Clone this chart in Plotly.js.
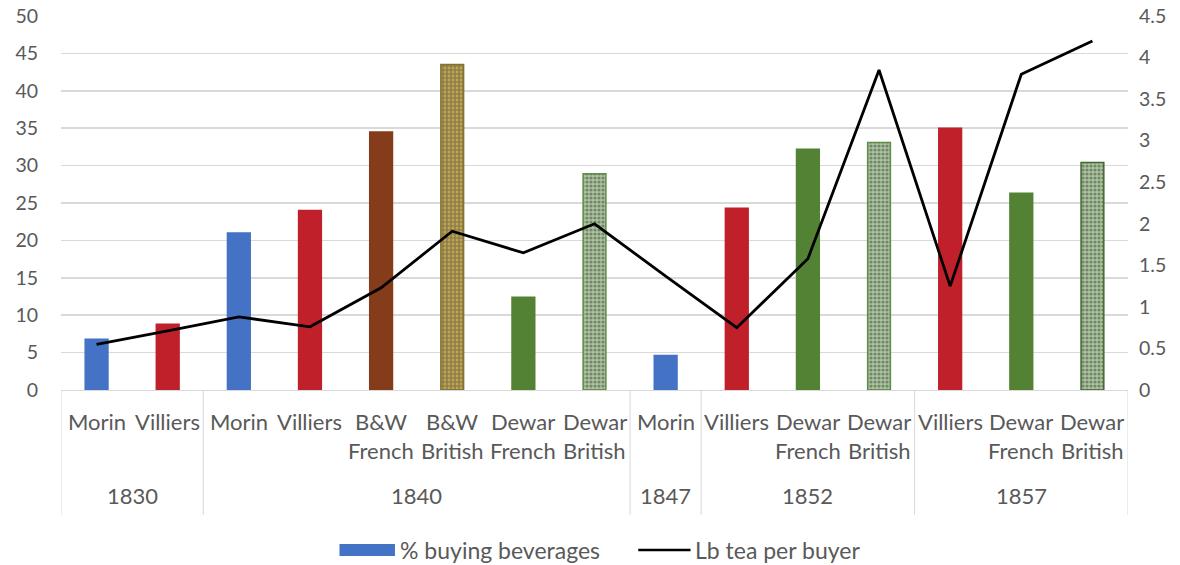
<!DOCTYPE html>
<html>
<head>
<meta charset="utf-8">
<script src="https://cdn.plot.ly/plotly-3.0.1.min.js"></script>
<style>
  html, body { margin: 0; padding: 0; background: #fff; }
  #chart { width: 1180px; height: 565px; }
</style>
</head>
<body>
<div id="chart"></div>
<script>
// outer level (year) and the two lines of each buyer label
const years = ['1830', '1830', '1840', '1840', '1840', '1840', '1840', '1840',
  '1847', '1852', '1852', '1852', '1857', '1857', '1857'];
const buyerTop = ['Morin', 'Villiers', 'Morin', 'Villiers', 'B&W', 'B&W', 'Dewar', 'Dewar',
  'Morin', 'Villiers', 'Dewar', 'Dewar', 'Villiers', 'Dewar', 'Dewar'];
const buyerBottom = ['', '', '', '', 'French', 'British', 'French', 'British',
  '', '', 'French', 'British', '', 'French', 'British'];

// % buying beverages (left axis)
const pctBuying = [6.8, 8.8, 21, 24, 34.5, 43.5, 12.4, 28.9, 4.6, 24.3, 32.2, 33.1, 35, 26.3, 30.4];
// lb tea per buyer (right axis)
const lbTea = [0.55, 0.71, 0.88, 0.76, 1.23, 1.91, 1.65, 2.0, 1.37, 0.75, 1.58, 3.85, 1.25, 3.8, 4.2];

const barColors = ['#4472C4', '#C0202A', '#4472C4', '#C0202A', '#843C1B', '#BFA550',
  '#548235', '#A9C59B', '#4472C4', '#C0202A', '#548235', '#A9C59B', '#C0202A', '#548235', '#A9C59B'];
const patShapes = ['', '', '', '', '', '+', '', '.', '', '', '', '.', '', '', '.'];
const patFg = ['#fff', '#fff', '#fff', '#fff', '#fff', '#6A561A', '#fff', '#EEF4EA', '#fff', '#fff',
  '#fff', '#EEF4EA', '#fff', '#fff', '#EEF4EA'];
const edgeColors = ['#4472C4', '#C0202A', '#4472C4', '#C0202A', '#843C1B', '#857030',
  '#548235', '#5E8C45', '#4472C4', '#C0202A', '#548235', '#5E8C45', '#C0202A', '#548235', '#41692F'];

const keys = years.map((y, i) => y + ' ' + buyerTop[i] + ' ' + buyerBottom[i]);

const bars = {
  type: 'bar',
  name: '% buying beverages',
  x: keys,
  y: pctBuying,
  width: 0.32,
  showlegend: false,
  marker: {
    color: barColors,
    line: { color: edgeColors, width: 1.5 },
    pattern: { shape: patShapes, fgcolor: patFg, bgcolor: barColors, size: 4, solidity: 0.5, fillmode: 'overlay' }
  },
  hoverinfo: 'y'
};

const line = {
  type: 'scatter',
  mode: 'lines',
  name: 'Lb tea per buyer',
  x: keys,
  y: lbTea,
  yaxis: 'y2',
  showlegend: false,
  line: { color: '#000', width: 2.8 }
};

const fontFam = 'Lato, "Open Sans", sans-serif';
const grey = '#595959';
const catFont = { family: fontFam, size: 22, color: grey };
const legFont = { family: fontFam, size: 23, color: grey };

// category labels, year labels and group dividers (paper y below the plot)
const annotations = [];
keys.forEach((k, i) => {
  annotations.push({ xref: 'x', yref: 'paper', x: i, y: -0.083, text: buyerTop[i],
    showarrow: false, font: catFont, xanchor: 'center', yanchor: 'middle' });
  if (buyerBottom[i]) {
    annotations.push({ xref: 'x', yref: 'paper', x: i, y: -0.161, text: buyerBottom[i],
      showarrow: false, font: catFont, xanchor: 'center', yanchor: 'middle' });
  }
});
const shapes = [];
const bounds = [-0.5];
years.forEach((y, i) => { if (i === years.length - 1 || years[i + 1] !== y) bounds.push(i + 0.5); });
bounds.forEach((b, j) => {
  shapes.push({ type: 'line', xref: 'x', yref: 'paper', x0: b, x1: b, y0: 0, y1: -0.334,
    line: { color: '#D9D9D9', width: 1 } });
  if (j > 0) {
    annotations.push({ xref: 'x', yref: 'paper', x: (bounds[j - 1] + b) / 2, y: -0.283,
      text: years[Math.round(b - 0.5)], showarrow: false, font: catFont,
      xanchor: 'center', yanchor: 'middle' });
  }
});

// legend, drawn below the chart
shapes.push({ type: 'rect', xref: 'paper', yref: 'paper', x0: 0.261, x1: 0.313, y0: -0.412, y1: -0.444,
  fillcolor: barColors[0], line: { width: 0 } });
annotations.push({ xref: 'paper', yref: 'paper', x: 0.316, y: -0.428, text: bars.name,
  showarrow: false, font: legFont, xanchor: 'left', yanchor: 'middle' });
shapes.push({ type: 'line', xref: 'paper', yref: 'paper', x0: 0.541, x1: 0.590, y0: -0.428, y1: -0.428,
  line: { color: '#000', width: 2.5 } });
annotations.push({ xref: 'paper', yref: 'paper', x: 0.592, y: -0.428, text: line.name,
  showarrow: false, font: legFont, xanchor: 'left', yanchor: 'middle' });

Plotly.newPlot('chart', [bars, line], {
  width: 1180,
  height: 565,
  margin: { l: 61, r: 52, t: 16, b: 175, autoexpand: false },
  paper_bgcolor: '#fff',
  plot_bgcolor: '#fff',
  font: { family: fontFam, size: 19.5, color: grey },
  showlegend: false,
  annotations: annotations,
  shapes: shapes,
  xaxis: {
    type: 'category',
    range: [-0.5, 14.5],
    showgrid: false,
    showline: true,
    linecolor: '#D9D9D9',
    linewidth: 1,
    ticks: '',
    showticklabels: false
  },
  yaxis: {
    range: [0, 50],
    dtick: 5,
    showgrid: true,
    gridcolor: '#D9D9D9',
    gridwidth: 1.5,
    zeroline: false,
    showline: false,
    ticks: '',
    ticklabelstandoff: 22,
    tickfont: { family: fontFam, size: 19.5, color: grey }
  },
  yaxis2: {
    overlaying: 'y',
    side: 'right',
    range: [0, 4.5],
    dtick: 0.5,
    showgrid: false,
    zeroline: false,
    showline: false,
    ticks: '',
    ticklabelstandoff: 10,
    tickfont: { family: fontFam, size: 19.5, color: grey }
  }
}, { displayModeBar: false, staticPlot: true });
</script>
</body>
</html>
